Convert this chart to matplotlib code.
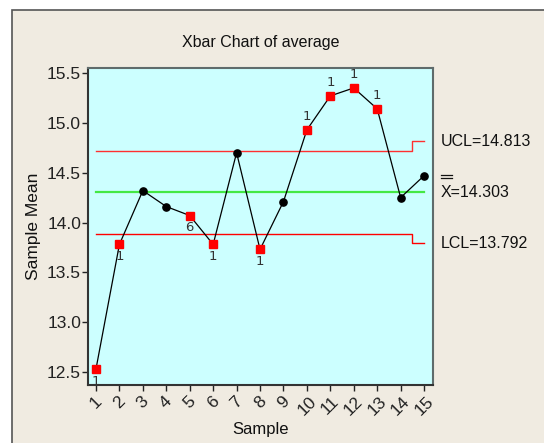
import matplotlib
matplotlib.use("Agg")
import matplotlib.pyplot as plt
from matplotlib import font_manager
from matplotlib.lines import Line2D
from matplotlib.patches import Rectangle
import matplotlib.transforms as mtransforms

# ---- data -------------------------------------------------------------
samples = list(range(1, 16))
means = [12.53, 13.78, 14.32, 14.16, 14.07, 13.78, 14.70, 13.73,
         14.21, 14.93, 15.27, 15.35, 15.14, 14.25, 14.47]
ucl = [14.720, 14.720, 14.720, 14.720, 14.720, 14.720, 14.720,
       14.720, 14.720, 14.720, 14.720, 14.720, 14.720, 14.720, 14.813]
center = 14.303
lcl = [13.886, 13.886, 13.886, 13.886, 13.886, 13.886, 13.886,
       13.886, 13.886, 13.886, 13.886, 13.886, 13.886, 13.886, 13.792]
# test failure flags (None = in control) and where the flag is printed
flags = ["1", "1", None, None, "6", "1", None, "1",
         None, "1", "1", "1", "1", None, None]
flag_above = [False, False, False, False, False, False, False, False,
              False, True, True, True, True, False, False]
yticks = [12.5, 13.0, 13.5, 14.0, 14.5, 15.0, 15.5]
ytick_labels = ["12.5", "13.0", "13.5", "14.0", "14.5", "15.0", "15.5"]

# ---- font -------------------------------------------------------------
names = {f.name for f in font_manager.fontManager.ttflist}
family = "Liberation Sans Narrow" if "Liberation Sans Narrow" in names else "Liberation Sans"
plt.rcParams["font.family"] = [family, "DejaVu Sans"]

BG = "#F0EBE1"
fig = plt.figure(figsize=(5.44, 4.43), dpi=100, facecolor="white")
# framed beige panel
fig.add_artist(Rectangle((12 / 544, -0.1), 1.2, (443 - 10) / 443 + 0.1,
                         transform=fig.transFigure, facecolor=BG,
                         edgecolor="#555555", linewidth=1.2, zorder=0))

ax = fig.add_axes([88 / 544, 58 / 443, 345 / 544, 317 / 443])
ax.set_facecolor("#CCFFFF")
for s in ax.spines.values():
    s.set_color("#5F6B6B")
    s.set_linewidth(1.5)
ax.spines["left"].set_color("#333333")
ax.spines["bottom"].set_color("#333333")

ax.set_xlim(0.66, 15.38)
ax.set_ylim(12.37, 15.55)

# control limits
ax.step(samples, ucl, where="mid", color="#FF3030", lw=1.0, zorder=2)
ax.step(samples, lcl, where="mid", color="#FF0000", lw=1.0, zorder=2)
ax.plot([samples[0], samples[-1]], [center, center], color="#44E844", lw=1.6, zorder=2)

# data line and points
ax.plot(samples, means, color="black", lw=0.9, zorder=3)
for x, y, f, up in zip(samples, means, flags, flag_above):
    if f is None:
        ax.plot(x, y, "o", color="black", ms=5.2, zorder=4)
    else:
        ax.plot(x, y, "s", color="#FF0000", ms=5.4, mec="#FF0000", zorder=4)
        if up:
            ax.annotate(f, (x, y), xytext=(0, 5), textcoords="offset points",
                        ha="center", va="bottom", fontsize=9.5, color="#333333",
                        family="DejaVu Sans", zorder=5)
        else:
            ax.annotate(f, (x, y), xytext=(0, -4), textcoords="offset points",
                        ha="center", va="top", fontsize=9.5, color="#333333",
                        family="DejaVu Sans", zorder=5, annotation_clip=False)

# axes ticks
ax.set_yticks(yticks)
ax.set_yticklabels(ytick_labels)
ax.set_xticks(samples)
ax.set_xticklabels([str(s) for s in samples], rotation=45, ha="center")
ax.tick_params(axis="y", direction="out", length=4, width=1, labelsize=12.5,
               colors="#222222", pad=1)
ax.tick_params(axis="x", direction="out", length=4, width=1, labelsize=12.5,
               colors="#222222", pad=2)

ax.set_title("Xbar Chart of average", fontsize=11.5, pad=15, color="#111111")
ax.set_xlabel("Sample", fontsize=12, labelpad=3, color="#111111")
ax.set_ylabel("Sample Mean", fontsize=12.5, labelpad=4, color="#111111")

# limit labels on the right
lab_x = 15.72
lab_fs = 11.5
ax.text(lab_x, ucl[-1], "UCL=14.813", fontsize=lab_fs, va="center", ha="left",
        clip_on=False, color="#111111")
ax.text(lab_x, center, "X=14.303", fontsize=lab_fs, va="center", ha="left",
        clip_on=False, color="#111111")
ax.text(lab_x, lcl[-1], "LCL=13.792", fontsize=lab_fs, va="center", ha="left",
        clip_on=False, color="#111111")
# double bar over the X of the grand mean label
for dy in (10.5, 12.8):
    tr = ax.transData + mtransforms.ScaledTranslation(0, dy / 72, fig.dpi_scale_trans)
    ax.add_line(Line2D([lab_x + 0.02, lab_x + 0.48], [center, center], transform=tr,
                       color="#111111", lw=0.9, clip_on=False))

fig.savefig("out.png", dpi=100, facecolor=fig.get_facecolor())
